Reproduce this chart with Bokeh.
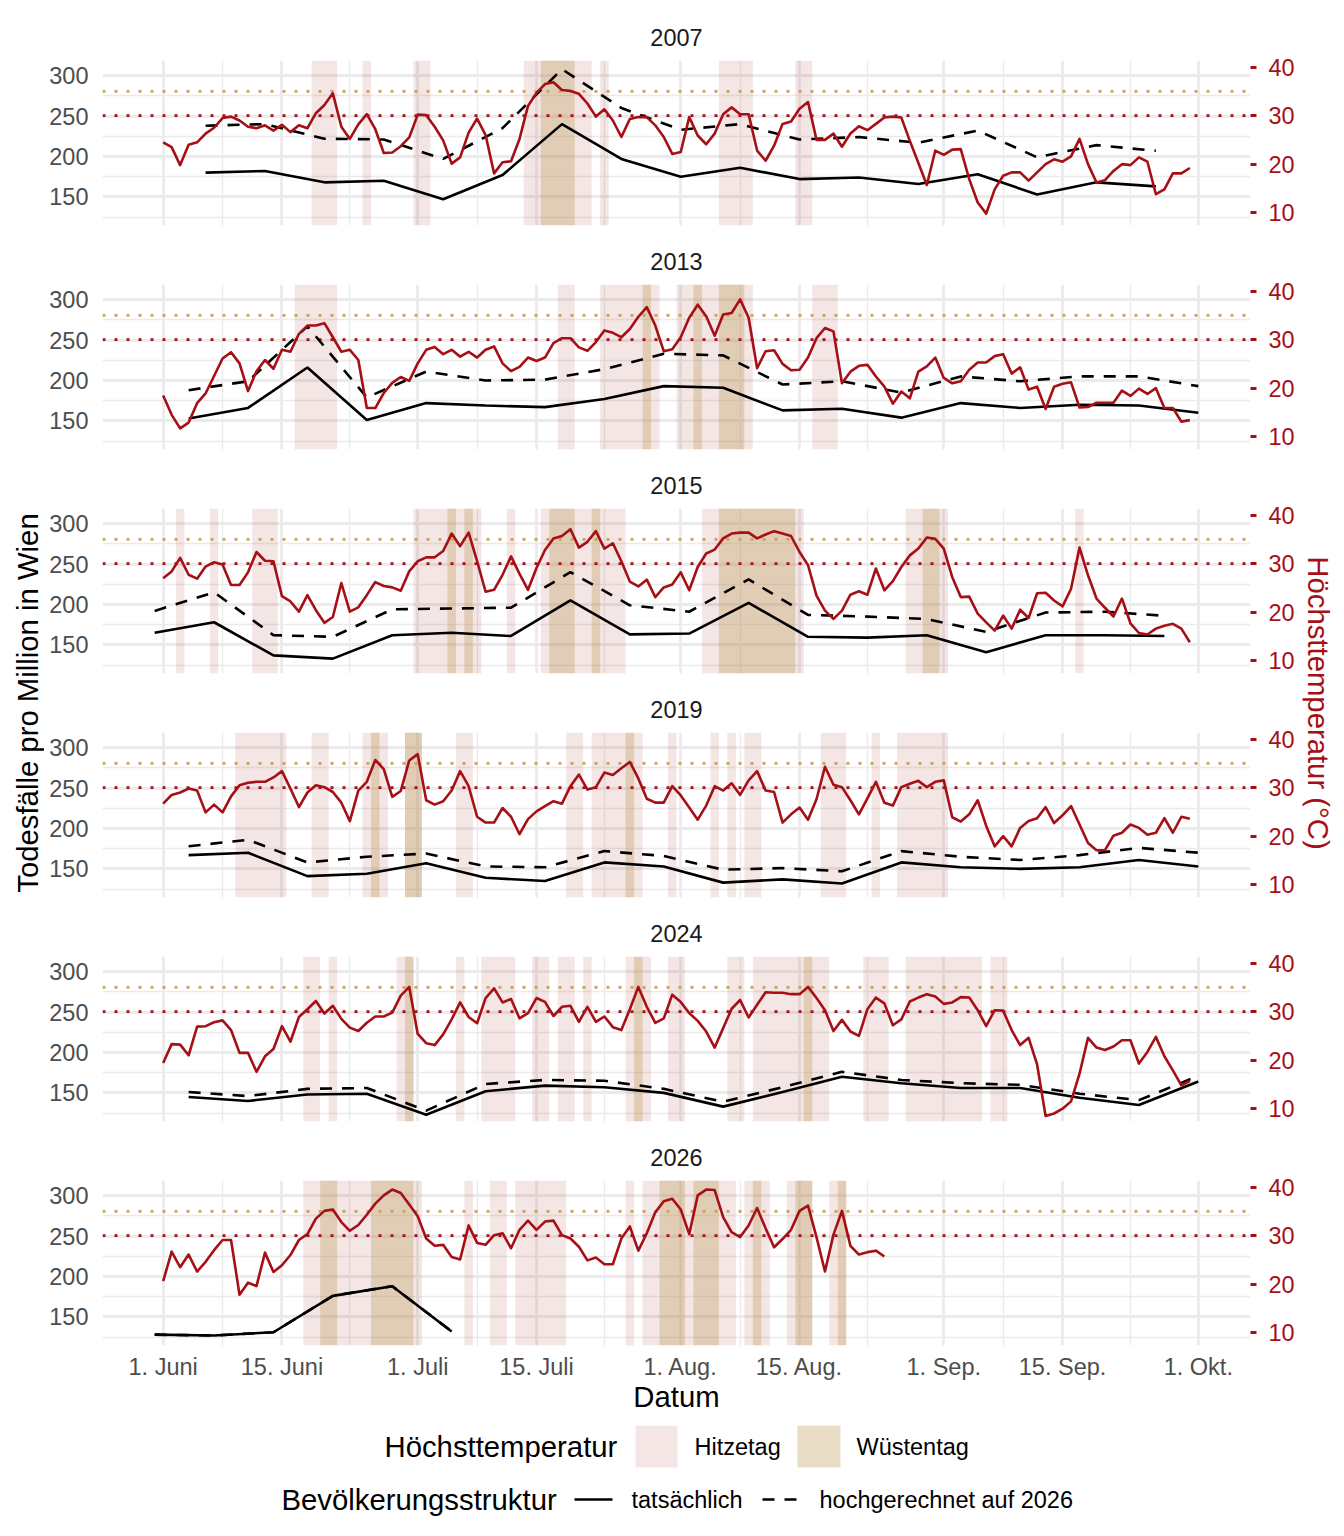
import math
from bokeh.plotting import figure
from bokeh.models import Range1d, LinearAxis, FixedTicker, Grid, Span
from bokeh.layouts import column, row
from bokeh.embed import file_html
from bokeh.resources import INLINE
from bokeh.core.properties import value

# ---------------- data ----------------
years = ["2007", "2013", "2015", "2019", "2024", "2026"]

# daily maximum temperature (°C), day 0 = 1 June
temp_2007 = [24.5, 23.5, 19.8, 24.0, 24.5, 26.3, 27.5, 29.5, 29.8, 29.0,
             27.7, 27.4, 28.0, 26.9, 28.1, 26.6, 28.0, 27.4, 30.5, 32.2,
             34.6, 27.7, 25.2, 28.2, 30.3, 27.2, 22.3, 22.4, 23.7, 25.5,
             30.2, 30.1, 27.7, 24.9, 20.1, 21.4, 26.5, 29.4, 26.0, 18.1,
             20.4, 20.6, 25.2, 32.0, 34.7, 36.5, 36.9, 35.3, 35.1, 34.5,
             32.5, 29.8, 31.3, 29.0, 25.6, 29.3, 29.7, 29.7, 28.0, 25.6,
             22.1, 22.5, 29.7, 25.9, 24.1, 26.3, 30.3, 31.7, 30.3, 30.3,
             22.8, 20.7, 23.8, 28.3, 28.8, 31.4, 32.8, 25.0, 25.0, 26.3,
             23.6, 26.3, 27.8, 27.0, 28.3, 29.6, 29.8, 29.6, 24.8, 20.3,
             15.7, 22.8, 21.9, 23.0, 23.1, 16.9, 12.1, 9.8, 14.8, 17.6,
             18.3, 18.3, 16.6, 18.3, 20.0, 21.0, 20.5, 21.6, 25.2, 20.0,
             16.2, 16.7, 18.6, 20.0, 19.8, 21.4, 20.5, 13.8, 14.8, 18.1,
             18.1, 19.2]
temp_2013 = [18.5, 14.5, 11.7, 12.9, 16.9, 18.9, 22.5, 26.1, 27.4, 25.1,
             19.4, 23.5, 25.8, 24.0, 27.9, 27.5, 31.2, 32.9, 32.9, 33.4,
             30.5, 27.5, 27.9, 25.8, 15.9, 15.9, 19.0, 21.1, 22.3, 21.5,
             25.1, 27.9, 28.5, 27.0, 27.9, 26.5, 27.5, 26.3, 27.9, 28.6,
             25.1, 23.5, 24.4, 26.3, 25.6, 26.3, 29.3, 30.3, 30.3, 28.4,
             27.7, 29.5, 31.9, 31.4, 30.5, 32.2, 34.7, 36.7, 32.9, 27.6,
             28.0, 30.5, 34.5, 37.2, 34.8, 30.8, 35.2, 35.5, 38.3, 34.5,
             24.1, 27.6, 27.8, 25.0, 23.7, 23.8, 26.3, 30.3, 32.4, 31.7,
             21.0, 23.4, 24.6, 24.8, 22.4, 20.3, 16.8, 19.3, 17.9, 23.4,
             24.5, 26.3, 22.1, 21.0, 21.4, 23.8, 25.3, 25.3, 26.6, 27.0,
             23.0, 24.3, 19.7, 20.3, 15.7, 20.3, 20.9, 21.2, 16.0, 16.1,
             17.0, 17.0, 17.0, 19.5, 18.4, 19.9, 18.8, 20.0, 15.9, 15.9,
             13.1, 13.4]
temp_2015 = [27.0, 28.4, 31.2, 27.7, 26.9, 29.4, 30.3, 29.8, 25.6, 25.6,
             28.2, 32.4, 30.6, 30.5, 23.3, 22.2, 20.1, 23.5, 20.4, 17.8,
             19.0, 26.0, 20.1, 21.0, 23.5, 26.2, 25.4, 25.1, 24.4, 28.4,
             30.5, 31.3, 31.3, 32.6, 36.2, 33.6, 36.4, 30.5, 24.2, 24.6,
             27.7, 31.5, 27.9, 24.6, 29.1, 32.8, 35.2, 35.7, 37.1, 33.3,
             34.5, 36.7, 33.1, 34.2, 30.5, 26.3, 25.3, 26.7, 23.1, 25.1,
             25.7, 28.2, 24.5, 29.3, 32.1, 32.9, 35.2, 36.2, 36.4, 36.4,
             35.2, 36.0, 36.7, 36.2, 35.7, 32.4, 29.7, 23.4, 20.3, 18.6,
             20.3, 23.6, 24.3, 23.6, 29.0, 24.5, 26.4, 29.3, 31.7, 33.1,
             35.4, 35.1, 33.1, 27.2, 23.1, 23.2, 19.7, 17.9, 16.2, 19.3,
             16.6, 20.5, 18.8, 23.9, 24.0, 22.4, 21.2, 24.8, 33.3, 27.6,
             22.8, 20.9, 19.1, 22.8, 17.7, 15.7, 15.4, 16.6, 17.2, 17.6,
             16.6, 13.8]
temp_2019 = [26.7, 28.5, 29.0, 29.8, 29.4, 24.9, 26.5, 24.9, 28.2, 30.5,
             31.0, 31.2, 31.2, 32.1, 33.4, 29.8, 26.0, 29.0, 30.5, 30.1,
             29.1, 26.9, 23.1, 29.4, 31.2, 35.7, 33.8, 28.1, 29.3, 35.6,
             36.9, 27.4, 26.5, 27.2, 29.4, 33.4, 30.3, 24.0, 22.8, 22.8,
             25.8, 24.0, 20.4, 23.5, 25.1, 26.2, 27.2, 26.7, 30.3, 32.7,
             29.6, 30.1, 33.1, 32.6, 34.0, 35.3, 31.9, 27.7, 26.9, 26.9,
             30.3, 28.4, 25.9, 23.4, 26.3, 30.3, 29.4, 30.9, 28.5, 31.5,
             33.4, 29.4, 29.1, 22.8, 24.5, 25.9, 23.4, 27.6, 34.3, 30.6,
             30.1, 27.4, 24.5, 27.8, 31.2, 26.9, 26.3, 30.1, 30.8, 31.4,
             30.1, 31.2, 31.5, 23.9, 23.0, 24.5, 27.4, 22.1, 17.9, 20.0,
             17.9, 21.7, 23.1, 23.7, 26.0, 22.7, 24.3, 26.2, 22.4, 18.6,
             17.1, 17.1, 20.1, 20.7, 22.4, 21.7, 20.3, 20.7, 23.7, 20.7,
             24.0, 23.6]
temp_2024 = [19.4, 23.3, 23.2, 21.0, 26.9, 27.0, 27.8, 28.2, 26.2, 21.5,
             21.5, 17.6, 20.8, 22.3, 27.0, 23.8, 28.9, 30.5, 32.2, 29.6,
             31.2, 28.5, 26.7, 26.0, 27.7, 29.0, 29.0, 29.8, 33.3, 35.1,
             25.4, 23.5, 23.1, 25.3, 28.4, 31.9, 28.9, 27.6, 32.8, 34.8,
             31.9, 32.6, 28.6, 29.7, 32.8, 32.0, 29.1, 31.0, 31.2, 27.9,
             31.0, 27.9, 29.0, 26.8, 26.2, 30.5, 35.1, 31.0, 27.7, 28.6,
             33.5, 32.0, 29.7, 28.1, 25.9, 22.6, 26.6, 30.6, 32.4, 28.8,
             31.4, 34.0, 33.9, 33.9, 33.6, 33.6, 35.1, 32.8, 30.3, 26.0,
             28.3, 25.9, 25.0, 30.5, 32.9, 31.7, 27.2, 28.4, 32.1, 32.9,
             33.6, 33.1, 31.6, 31.9, 33.0, 32.9, 30.3, 27.0, 30.3, 30.2,
             26.2, 23.1, 24.6, 19.1, 8.5, 9.0, 10.0, 11.5, 17.2, 24.6,
             22.6, 22.1, 22.8, 24.1, 24.1, 19.3, 21.7, 24.8, 20.8, 17.9,
             14.8, 15.7]
temp_2026 = [20.6, 26.7, 23.5, 26.1, 22.6, 24.6, 27.0, 29.1, 29.1, 17.8,
             20.3, 19.6, 26.5, 22.5, 23.9, 26.0, 29.1, 30.3, 33.5, 35.1,
             35.4, 32.8, 31.0, 32.2, 34.3, 36.6, 38.3, 39.5, 38.8, 36.4,
             34.0, 29.4, 27.9, 28.1, 25.6, 25.1, 32.1, 28.5, 28.1, 30.1,
             30.5, 27.4, 31.2, 33.1, 31.2, 32.9, 33.1, 30.1, 29.4, 27.7,
             24.9, 25.5, 24.1, 24.1, 29.4, 31.9, 26.9, 30.5, 34.8, 37.1,
             37.6, 35.4, 30.3, 38.3, 39.5, 39.4, 33.8, 30.7, 29.7, 32.1,
             35.7, 31.5, 27.6, 29.3, 31.2, 35.1, 36.2, 29.7, 22.6, 30.2,
             35.1, 27.9, 26.1, 26.6, 26.9, 25.7]

# weekly deaths per million (day offsets from 1 June)
week_2007 = [5, 12, 19, 26, 33, 40, 47, 54, 61, 68, 75, 82, 89, 96, 103, 110, 117]
actual_2007 = [180, 182, 168, 170, 147, 177, 240, 197, 175, 186, 172, 174, 166, 178, 153, 168, 163]
projected_2007 = [238, 240, 222, 221, 197, 235, 308, 260, 233, 240, 221, 224, 217, 232, 199, 214, 207]

week_2013 = [3, 10, 17, 24, 31, 38, 45, 52, 59, 66, 73, 80, 87, 94, 101, 108, 115, 122]
actual_2013 = [153, 166, 216, 151, 172, 169, 167, 177, 193, 191, 163, 165, 154, 172, 166, 170, 169, 160]
projected_2013 = [188, 199, 267, 179, 211, 200, 201, 214, 233, 231, 195, 199, 185, 205, 199, 205, 205, 193]

week_2015 = [-1, 6, 13, 20, 27, 34, 41, 48, 55, 62, 69, 76, 83, 90, 97, 104, 111, 118]
actual_2015 = [165, 178, 137, 133, 162, 165, 161, 205, 163, 164, 202, 160, 159, 162, 141, 162, 162, 161]
projected_2015 = [192, 215, 162, 160, 194, 195, 196, 240, 199, 191, 231, 187, 185, 182, 166, 190, 191, 186]

week_2019 = [3, 10, 17, 24, 31, 38, 45, 52, 59, 66, 73, 80, 87, 94, 101, 108, 115, 122]
actual_2019 = [167, 170, 141, 144, 157, 139, 135, 158, 153, 133, 137, 132, 158, 152, 150, 152, 161, 153]
projected_2019 = [178, 186, 158, 165, 169, 153, 152, 172, 166, 149, 151, 147, 172, 165, 161, 167, 176, 170]

week_2024 = [3, 10, 17, 24, 31, 38, 45, 52, 59, 66, 73, 80, 87, 94, 101, 108, 115, 122]
actual_2024 = [145, 140, 148, 149, 123, 152, 159, 157, 150, 133, 151, 170, 162, 156, 156, 144, 135, 164]
projected_2024 = [151, 146, 155, 156, 128, 161, 166, 165, 155, 139, 157, 176, 166, 162, 160, 149, 141, 171]

week_2026 = [-1, 6, 13, 20, 27, 34]
actual_2026 = [128, 127, 131, 176, 188, 132]
projected_2026 = [128, 127, 131, 176, 188, 132]

x_tick_days = [0, 14, 30, 44, 61, 75, 92, 106, 122]
x_tick_labels = ["1. Juni", "15. Juni", "1. Juli", "15. Juli", "1. Aug.",
                 "15. Aug.", "1. Sep.", "15. Sep.", "1. Okt."]
x_minor_days = [7, 22, 37, 52, 68, 83, 99, 114]
death_ticks = [150, 200, 250, 300]
death_minor = [125, 175, 225, 275]
temp_ticks = [10, 20, 30, 40]
hitzetag_threshold = 30
wuestentag_threshold = 35

series = {
    "2007": (temp_2007, week_2007, actual_2007, projected_2007),
    "2013": (temp_2013, week_2013, actual_2013, projected_2013),
    "2015": (temp_2015, week_2015, actual_2015, projected_2015),
    "2019": (temp_2019, week_2019, actual_2019, projected_2019),
    "2024": (temp_2024, week_2024, actual_2024, projected_2024),
    "2026": (temp_2026, week_2026, actual_2026, projected_2026),
}

# ---------------- style ----------------
FONT = "Liberation Sans"
RED = "#A50F15"
GRID = "#EBEBEB"
PINK = "#A50F15"
PINK_ALPHA = 0.105
TAN = "#BE9D5F"
TAN_ALPHA = 0.36
TAN_DOT = "#C8A25E"
AX_TXT = "#4D4D4D"
DASH = "12 10"

X0, X1 = -7.15, 128.15
Y0, Y1 = 114.6, 318.7
K = 6.0
D30 = 250.5
T0 = 30 + (Y0 - D30) / K
T1 = 30 + (Y1 - D30) / K

FRAME_H = 165
LEFT_B, RIGHT_B = 58, 52
FRAME_W = 1148
PW = LEFT_B + FRAME_W + RIGHT_B
LAB_L = 44      # width of left title column
LAB_R = 34      # width of right title column


def runs(temps, thr):
    out, start = [], None
    for d, t in enumerate(temps):
        if t >= thr:
            if start is None:
                start = d
        else:
            if start is not None:
                out.append((start, d - 1))
                start = None
    if start is not None:
        out.append((start, len(temps) - 1))
    return out


def panel(idx, year):
    temps, wdays, act, proj = series[year]
    last = idx == len(years) - 1
    top = 60 if idx == 0 else 48
    bottom = 80 if last else 11
    p = figure(width=PW, height=top + FRAME_H + bottom,
               x_range=Range1d(X0, X1), y_range=Range1d(Y0, Y1),
               x_axis_type=None, y_axis_type=None,
               toolbar_location=None, output_backend="svg",
               min_border_left=LEFT_B, min_border_right=RIGHT_B,
               min_border_top=top, min_border_bottom=bottom)
    p.outline_line_color = None
    p.extra_y_ranges = {"temp": Range1d(T0, T1)}

    p.title.text = year
    p.title.align = "center"
    p.title.text_font = FONT
    p.title.text_font_size = "23.5px"
    p.title.text_font_style = "normal"
    p.title.text_color = "#1A1A1A"
    p.title.standoff = 29

    p.add_layout(Grid(dimension=0, ticker=FixedTicker(ticks=x_tick_days, minor_ticks=x_minor_days),
                      grid_line_color=GRID, grid_line_width=2.8,
                      minor_grid_line_color=GRID, minor_grid_line_width=1.4))
    p.add_layout(Grid(dimension=1, ticker=FixedTicker(ticks=death_ticks, minor_ticks=death_minor),
                      grid_line_color=GRID, grid_line_width=2.8,
                      minor_grid_line_color=GRID, minor_grid_line_width=1.4))

    yl = LinearAxis(ticker=FixedTicker(ticks=death_ticks), axis_line_color=None,
                    major_tick_line_color=None, minor_tick_line_color=None,
                    major_tick_out=0, major_tick_in=0, major_label_standoff=14,
                    major_label_text_font=FONT, major_label_text_font_size="23.5px",
                    major_label_text_color=AX_TXT)
    p.add_layout(yl, "left")
    yr = LinearAxis(y_range_name="temp", ticker=FixedTicker(ticks=temp_ticks),
                    axis_line_color=None, major_tick_line_color=RED,
                    major_tick_line_width=2.8, major_tick_out=6, major_tick_in=0,
                    minor_tick_line_color=None, major_label_standoff=12,
                    major_label_text_font=FONT, major_label_text_font_size="23.5px",
                    major_label_text_color=RED)
    p.add_layout(yr, "right")

    if last:
        xa = LinearAxis(ticker=FixedTicker(ticks=x_tick_days),
                        major_label_overrides={d: l for d, l in zip(x_tick_days, x_tick_labels)},
                        axis_line_color=None, major_tick_line_color=None,
                        minor_tick_line_color=None, major_tick_out=0, major_tick_in=0,
                        major_label_standoff=8,
                        major_label_text_font=FONT, major_label_text_font_size="23.5px",
                        major_label_text_color=AX_TXT,
                        axis_label="Datum", axis_label_standoff=-3,
                        axis_label_text_font=FONT, axis_label_text_font_size="29.3px",
                        axis_label_text_font_style="normal", axis_label_text_color="black")
        p.add_layout(xa, "below")

    hz = runs(temps, hitzetag_threshold)
    p.quad(left=[a - 0.5 for a, b in hz], right=[b + 0.5 for a, b in hz],
           bottom=Y0, top=Y1, fill_color=PINK, fill_alpha=PINK_ALPHA, line_color=None)
    wz = runs(temps, wuestentag_threshold)
    if wz:
        p.quad(left=[a - 0.5 for a, b in wz], right=[b + 0.5 for a, b in wz],
               bottom=Y0, top=Y1, fill_color=TAN, fill_alpha=TAN_ALPHA, line_color=None)

    s35 = Span(location=wuestentag_threshold, dimension="width", y_range_name="temp",
               line_color=TAN_DOT, line_width=2.7, line_dash="3 9", level="glyph")
    s30 = Span(location=hitzetag_threshold, dimension="width", y_range_name="temp",
               line_color=RED, line_width=2.7, line_dash="3 9", level="glyph")
    p.renderers.extend([s35, s30])

    p.line(wdays, proj, line_color="black", line_width=2.6, line_dash=DASH)
    p.line(wdays, act, line_color="black", line_width=2.6)
    p.line(list(range(len(temps))), temps, y_range_name="temp",
           line_color=RED, line_width=2.6, line_join="round")
    return p


panels = [panel(i, y) for i, y in enumerate(years)]
col_h = sum(pp.height for pp in panels)
page_top = 0
page_bottom = page_top + col_h
frames_mid = (60 + (col_h - 80)) / 2.0


def label_fig(x0, x1, text, angle, color, xc):
    f = figure(width=x1 - x0, height=col_h, x_range=Range1d(x0, x1),
               y_range=Range1d(page_bottom, page_top), x_axis_type=None, y_axis_type=None,
               toolbar_location=None, output_backend="svg", min_border=0)
    f.outline_line_color = None
    f.grid.visible = False
    f.text(x=[xc], y=[frames_mid], text=[text], angle=angle, text_align="center",
           text_baseline="middle", text_font=value(FONT), text_font_size="29.3px",
           text_color=color)
    return f


left_lab = label_fig(0, LAB_L, "Todesfälle pro Million in Wien", math.pi / 2, "black", 27)
right_lab = label_fig(LAB_L + PW, LAB_L + PW + LAB_R, "Höchsttemperatur (°C)", -math.pi / 2,
                      RED, LAB_L + PW + 16)

# legend
LW = LAB_L + PW + LAB_R
LH = 1528 - page_bottom
leg = figure(width=LW, height=LH, x_range=Range1d(0, LW),
             y_range=Range1d(page_bottom + LH, page_bottom), x_axis_type=None, y_axis_type=None,
             toolbar_location=None, output_backend="svg", min_border=0)
leg.outline_line_color = None
leg.grid.visible = False
r1, r2 = 1446, 1499
leg.text(x=[384], y=[r1], text=["Höchsttemperatur"], text_align="left", text_baseline="middle",
         text_font=value(FONT), text_font_size="29.3px", text_color="black")
leg.quad(left=[635], right=[677], top=[r1 - 21], bottom=[r1 + 21],
         fill_color=PINK, fill_alpha=PINK_ALPHA, line_color=None)
leg.text(x=[694], y=[r1], text=["Hitzetag"], text_align="left", text_baseline="middle",
         text_font=value(FONT), text_font_size="23.5px", text_color="black")
leg.quad(left=[797], right=[840], top=[r1 - 21], bottom=[r1 + 21],
         fill_color=TAN, fill_alpha=TAN_ALPHA, line_color=None)
leg.text(x=[856], y=[r1], text=["Wüstentag"], text_align="left", text_baseline="middle",
         text_font=value(FONT), text_font_size="23.5px", text_color="black")
leg.text(x=[281], y=[r2], text=["Bevölkerungsstruktur"], text_align="left", text_baseline="middle",
         text_font=value(FONT), text_font_size="29.3px", text_color="black")
leg.line(x=[574, 612], y=[r2, r2], line_color="black", line_width=2.6)
leg.text(x=[631], y=[r2], text=["tatsächlich"], text_align="left", text_baseline="middle",
         text_font=value(FONT), text_font_size="23.5px", text_color="black")
leg.line(x=[762, 797], y=[r2, r2], line_color="black", line_width=2.6, line_dash=DASH)
leg.text(x=[819], y=[r2], text=["hochgerechnet auf 2026"], text_align="left", text_baseline="middle",
         text_font=value(FONT), text_font_size="23.5px", text_color="black")

layout = column(row(left_lab, column(*panels), right_lab), leg)
open("out.html", "w").write(file_html(layout, INLINE))
